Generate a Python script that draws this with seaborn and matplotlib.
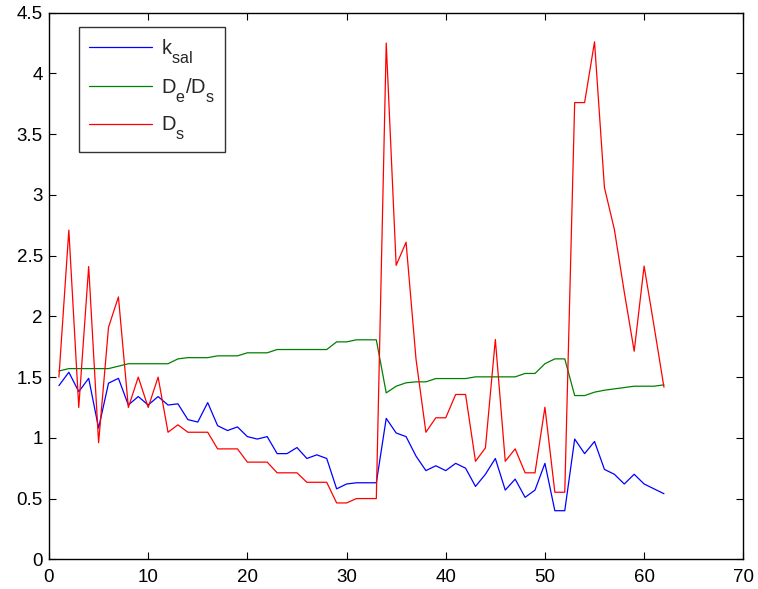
import numpy as np
import pandas as pd
import matplotlib
matplotlib.use("Agg")
import matplotlib.pyplot as plt
import seaborn as sns

try:
    import matplotlib._mathtext as _mt
    _mt.SHRINK_FACTOR = 0.8
    _mt.FontConstantsBase.subdrop = 0.85
    _mt.FontConstantsBase.sub1 = 0.85
except Exception:
    pass

x = list(range(1, 63))

k_sal = [1.43, 1.54, 1.38, 1.49, 1.08, 1.45, 1.49, 1.27, 1.34, 1.27,
         1.34, 1.27, 1.28, 1.15, 1.13, 1.29, 1.10, 1.06, 1.09, 1.01,
         0.99, 1.01, 0.87, 0.87, 0.92, 0.83, 0.86, 0.83, 0.58, 0.62,
         0.63, 0.63, 0.63, 1.16, 1.04, 1.01, 0.85, 0.73, 0.77, 0.73,
         0.79, 0.75, 0.60, 0.70, 0.83, 0.57, 0.66, 0.51, 0.57, 0.79,
         0.40, 0.40, 0.99, 0.87, 0.97, 0.74, 0.70, 0.62, 0.70, 0.62,
         0.58, 0.54]

de_ds = [1.55, 1.57, 1.57, 1.57, 1.57, 1.57, 1.59, 1.61, 1.61, 1.61,
         1.61, 1.61, 1.65, 1.66, 1.66, 1.66, 1.675, 1.675, 1.675, 1.70,
         1.70, 1.70, 1.727, 1.727, 1.727, 1.727, 1.727, 1.727, 1.79, 1.79,
         1.807, 1.807, 1.807, 1.37, 1.425, 1.453, 1.461, 1.461, 1.488, 1.488,
         1.488, 1.488, 1.502, 1.502, 1.502, 1.502, 1.502, 1.53, 1.53, 1.61,
         1.65, 1.65, 1.348, 1.348, 1.376, 1.392, 1.403, 1.414, 1.425, 1.425,
         1.425, 1.436]

d_s = [1.50, 2.71, 1.25, 2.41, 0.96, 1.91, 2.16, 1.25, 1.50, 1.25,
       1.50, 1.046, 1.107, 1.046, 1.046, 1.046, 0.909, 0.909, 0.909, 0.80,
       0.80, 0.80, 0.712, 0.712, 0.712, 0.634, 0.634, 0.634, 0.464, 0.464,
       0.50, 0.50, 0.50, 4.25, 2.42, 2.61, 1.65, 1.046, 1.165, 1.165,
       1.357, 1.357, 0.807, 0.917, 1.81, 0.807, 0.909, 0.712, 0.712, 1.252,
       0.552, 0.552, 3.76, 3.76, 4.26, 3.06, 2.716, 2.20, 1.713, 2.414,
       1.92, 1.417]

labels = ["$\\mathregular{k_{sal}}$", "$\\mathregular{D_e/D_s}$", "$\\mathregular{D_s}$"]
colors = ["#0000ff", "#008000", "#ff0000"]

df = pd.DataFrame({"x": x * 3,
                   "y": k_sal + de_ds + d_s,
                   "series": [labels[0]] * 62 + [labels[1]] * 62 + [labels[2]] * 62})

sns.set_style("white")
plt.rcParams["font.family"] = ["Liberation Sans", "DejaVu Sans"]
plt.rcParams["mathtext.default"] = "regular"

fig = plt.figure(figsize=(7.58, 5.89), dpi=100)
ax = fig.add_axes([49 / 758, (589 - 559.3) / 589, (743.3 - 49) / 758, (559.3 - 12.7) / 589])

sns.lineplot(data=df, x="x", y="y", hue="series", hue_order=labels,
             palette=colors, linewidth=0.9, ax=ax, legend=True)

ax.set_xlim(0, 70)
ax.set_ylim(0, 4.5)
ax.set_xticks(np.arange(0, 71, 10))
ax.set_yticks(np.arange(0, 4.51, 0.5))
ax.set_yticklabels(["0", "0.5", "1", "1.5", "2", "2.5", "3", "3.5", "4", "4.5"])
ax.set_xlabel("")
ax.set_ylabel("")
for s in ax.spines.values():
    s.set_visible(True)
    s.set_color("black")
    s.set_linewidth(1.0)
ax.tick_params(direction="in", length=5, width=0.8, top=True, right=True,
               labelsize=13.5, colors="black", bottom=True, left=True)
ax.tick_params(axis="x", pad=7)
ax.tick_params(axis="y", pad=4.5)

leg = ax.legend(loc="upper left", bbox_to_anchor=((79 - 49) / 694.3, (559.3 - 27.3) / 546.6),
                fontsize=14.5, frameon=True, fancybox=False, handlelength=3.1,
                borderpad=0.5, labelspacing=0.52, handletextpad=0.45, borderaxespad=0)
leg.get_frame().set_edgecolor("black")
leg.get_frame().set_linewidth(1.0)
for line in leg.get_lines():
    line.set_linewidth(0.9)

fig.savefig("out.png", dpi=100)
